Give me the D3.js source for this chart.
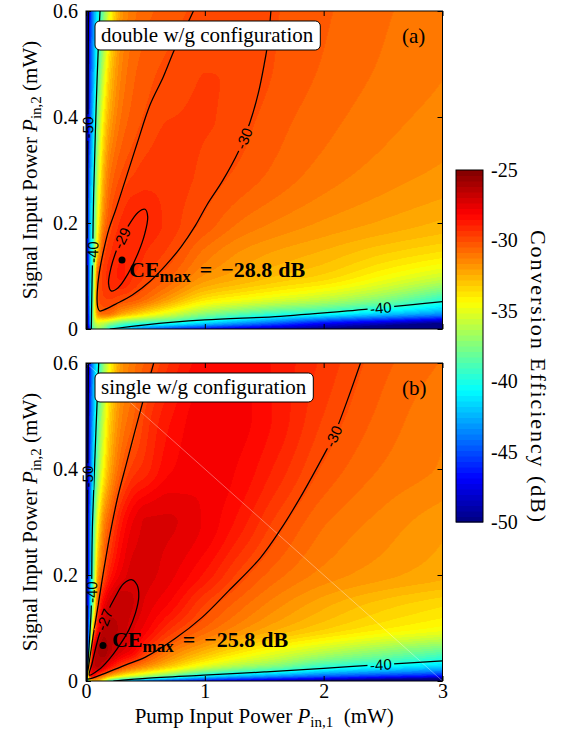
<!DOCTYPE html>
<html><head><meta charset="utf-8">
<script src="https://cdn.jsdelivr.net/npm/d3@7"></script>
<style>body{margin:0;background:#fff}svg{display:block}</style>
</head><body>
<script>
// ---------------- data ----------------
const gridX = [0,0.01,0.03,0.06,0.1,0.15,0.2,0.3,0.4,0.5,0.7,1,1.3,1.6,2,2.5,3];
const gridY = [0,0.01,0.03,0.06,0.1,0.15,0.2,0.3,0.4,0.5,0.6];
// conversion efficiency (dB), rows = gridY, cols = gridX
const ceDouble = [
 [-55,-52,-46,-39,-37,-38,-40,-41.5,-43,-44,-45.5,-47,-48,-49,-50,-51.5,-53],
 [-55,-50,-44,-37.5,-35.5,-36,-37,-38.5,-39.3,-39.8,-40.5,-42,-43.5,-45,-47,-48.5,-50],
 [-55,-50,-43.5,-37,-31.5,-30.6,-30.8,-32,-32.8,-33.6,-35,-37,-38.2,-39.2,-40,-41.5,-43],
 [-55,-50,-43,-37.5,-30.2,-29.7,-29.6,-29.85,-30.1,-30.6,-31.8,-33.5,-34.2,-34.8,-35.6,-37,-39],
 [-55,-49.5,-43,-38,-30.4,-29.5,-29.1,-28.85,-29.3,-29.7,-30.4,-31.7,-32.3,-32.8,-33.3,-34.4,-35.5],
 [-55,-49.5,-43,-39,-33,-30,-29.4,-28.95,-28.95,-29.25,-29.75,-30.9,-31.6,-32,-32.4,-33,-33.5],
 [-55,-49,-43,-39.7,-34.5,-31.2,-30,-29.2,-28.95,-29,-29.45,-30.2,-30.9,-31.3,-31.7,-32.1,-32.5],
 [-55,-49.5,-44,-40.8,-36,-32.5,-31,-30.1,-29.75,-29.55,-29.45,-29.8,-30.15,-30.55,-31,-31.4,-31.7],
 [-55,-50.5,-45.5,-41.8,-37.5,-34,-32.2,-30.8,-30.3,-30.02,-29.7,-29.65,-29.9,-30.3,-30.7,-31.1,-31.4],
 [-55,-51,-46,-43,-39.3,-35.8,-33.3,-31.3,-30.6,-30.3,-29.98,-29.7,-29.7,-30.1,-30.5,-30.9,-31.2],
 [-55,-52,-47,-43.5,-40.6,-37.5,-34.8,-31.8,-31,-30.6,-30.3,-29.9,-29.75,-30.05,-30.4,-30.8,-31.1]
];
const ceSingle = [
 [-55,-45,-36,-33,-33,-35,-38.5,-41.5,-43,-44,-45.5,-47,-48,-49,-50,-51.5,-53],
 [-55,-42,-29.5,-28.3,-29.6,-31,-32.2,-34,-35.2,-36.2,-38,-40.6,-42,-43,-44.3,-45.5,-46.5],
 [-55,-46,-31.5,-26.9,-26.4,-27,-28,-29.5,-30.5,-31.3,-32.8,-34.8,-36.2,-37.2,-39,-40.2,-41.3],
 [-55,-48,-39,-28,-26.2,-25.85,-26.4,-27.2,-27.9,-29.2,-30.8,-32.3,-33.5,-34.5,-35.6,-36.8,-37.8],
 [-55,-49,-42,-33,-28.3,-26.6,-26.4,-26.7,-27.3,-27.9,-29.2,-30.5,-31.5,-32.3,-33.1,-33.9,-34.5],
 [-55,-49.5,-43.5,-37.3,-30.3,-28,-27.15,-26.7,-26.95,-27.4,-28.1,-29.6,-30.6,-31.4,-32.2,-32.9,-33.4],
 [-55,-49.5,-44,-38.5,-32,-30,-28.7,-27.6,-27.15,-27.2,-27.6,-28.6,-29.85,-30.7,-31.4,-31.9,-32.3],
 [-55,-49.5,-44.5,-39.6,-34.5,-31.5,-30.3,-28.6,-27.7,-27.3,-27.3,-27.8,-28.7,-29.8,-30.8,-31.4,-31.9],
 [-55,-50.5,-45.5,-41.3,-37.3,-34.2,-32.3,-30.4,-29.5,-29.1,-28.2,-27.8,-28.2,-29,-30.15,-30.9,-31.3],
 [-55,-51,-46,-42.5,-38.8,-35.6,-33.3,-31.3,-30.5,-29.6,-28.6,-27.9,-28,-28.6,-29.7,-30.6,-31.2],
 [-55,-52,-47,-43,-40.3,-37,-34.5,-31.8,-31,-30.4,-29.3,-28.3,-28.2,-28.6,-29.4,-30.35,-30.9]
];

// contour lines [P_in,1, P_in,2]
const dblM50 = [[0.008,0],[0.01,0.15],[0.013,0.3],[0.017,0.45],[0.021,0.6]];
const dblM40L = [[0.045,0],[0.048,0.05],[0.052,0.1],[0.057,0.15],[0.06,0.2],[0.064,0.25],[0.07,0.3],[0.08,0.38],[0.093,0.47],[0.105,0.54],[0.118,0.6]];
const dblM40B = [[0.2,0],[0.5,0.008],[1.0,0.017],[1.635,0.024],[2.2,0.034],[2.48,0.04],[2.75,0.046],[3,0.0515]];
const dblM30 = [[0.904,0.6],[0.862,0.58],[0.8,0.553],[0.742,0.526],[0.651,0.476],[0.539,0.423],[0.43,0.35],[0.331,0.281],[0.25,0.225],[0.191,0.187],[0.15,0.15],[0.121,0.118],[0.1,0.085],[0.093,0.055],[0.1,0.04],[0.115,0.034],[0.15,0.036],[0.25,0.047],[0.39,0.064],[0.54,0.09],[0.67,0.12],[0.8,0.155],[0.92,0.195],[1.02,0.235],[1.15,0.28],[1.283,0.335],[1.38,0.39],[1.45,0.445],[1.5,0.5],[1.53,0.54],[1.556,0.6]];
const dblM29 = [[0.497,0.226],[0.519,0.212],[0.496,0.181],[0.436,0.142],[0.353,0.104],[0.271,0.078],[0.211,0.072],[0.19,0.086],[0.212,0.117],[0.272,0.157],[0.355,0.194],[0.437,0.22]];

const sglM50 = [[0.008,0],[0.01,0.15],[0.012,0.3],[0.016,0.45],[0.02,0.6]];
const sglM40L = [[0.003,0],[0.015,0.03],[0.03,0.08],[0.043,0.13],[0.048,0.18],[0.05,0.24],[0.055,0.3],[0.068,0.38],[0.085,0.48],[0.107,0.6]];
const sglM40B = [[0.23,0],[0.5,0.005],[0.99,0.011],[1.5,0.017],[2.0,0.024],[2.48,0.031],[3,0.038]];
const sglM30 = [[0.57,0.6],[0.52,0.56],[0.47,0.52],[0.41,0.47],[0.34,0.41],[0.27,0.35],[0.205,0.28],[0.15,0.21],[0.1,0.14],[0.06,0.085],[0.03,0.04],[0.012,0.012],[0.01,0.004],[0.03,0.004],[0.11,0.01],[0.33,0.03],[0.5,0.045],[0.75,0.08],[0.977,0.12],[1.2,0.17],[1.466,0.232],[1.635,0.285],[1.8,0.345],[2.01,0.43],[2.08,0.46],[2.2,0.53],[2.31,0.6]];
const sglM27 = [[0.028,0.011],[0.051,0.033],[0.107,0.084],[0.177,0.128],[0.247,0.159],[0.318,0.184],[0.388,0.191],[0.43,0.181],[0.444,0.159],[0.416,0.128],[0.36,0.096],[0.275,0.065],[0.191,0.04],[0.107,0.021]];

// contour labels: text, contour index, approx. position
const dblLabels = [["-50",0,0.015,0.38],["-40",1,0.057,0.145],["-29",4,0.3,0.171],["-30",3,1.326,0.36],["-40",2,2.48,0.04]];
const sglLabels = [["-50",0,0.014,0.386],["-40",1,0.048,0.168],["-27",4,0.156,0.115],["-30",3,2.084,0.461],["-40",2,2.48,0.031]];

// maximum conversion efficiency: [P_in,1, P_in,2, CE]
const ceMaxDouble = [0.303,0.13,-28.8];
const ceMaxSingle = [0.143,0.067,-25.8];

const xTicks = [0,1,2,3], xTickLabels = ["0","1","2","3"];
const yTicks = [0,0.2,0.4,0.6], yTickLabels = ["0","0.2","0.4","0.6"];
const cbTicks = [-25,-30,-35,-40,-45,-50], cbTickLabels = ["-25","-30","-35","-40","-45","-50"];
const panelNames = ["double w/g configuration","single w/g configuration"];
const panelTags = ["(a)","(b)"];

// ---------------- drawing ----------------
const W = 561, H = 734;
const serif = '"Liberation Serif","Times New Roman",Times,serif';
const sans = '"Liberation Sans",Arial,Helvetica,sans-serif';
const svg = d3.select('body').append('svg').attr('width',W).attr('height',H);
const defs = svg.append('defs');

function jet(t){
  const c = v => Math.max(0, Math.min(1, v));
  return [c(1.5-Math.abs(4*t-3))*255, c(1.5-Math.abs(4*t-2))*255, c(1.5-Math.abs(4*t-1))*255].map(Math.round);
}
const cScale = d3.scaleQuantize().domain([-50,-25]).range(d3.range(64).map(k => jet((k+0.5)/64)));

// monotone cubic (PCHIP) shading of the grid, for a smooth display
function pchipSlopes(xs, ys){
  const n = xs.length, h = [], d = [], m = new Array(n);
  for (let k=0;k<n-1;k++){ h[k]=xs[k+1]-xs[k]; d[k]=(ys[k+1]-ys[k])/h[k]; }
  m[0]=d[0]; m[n-1]=d[n-2];
  for (let k=1;k<n-1;k++){
    if (d[k-1]*d[k] <= 0) m[k]=0;
    else { const w1=2*h[k]+h[k-1], w2=h[k]+2*h[k-1]; m[k]=(w1+w2)/(w1/d[k-1]+w2/d[k]); }
  }
  return m;
}
function pchipEval(xs, ys, m, x){
  let k = d3.bisectRight(xs, x) - 1; k = Math.max(0, Math.min(xs.length-2, k));
  const h = xs[k+1]-xs[k]; let t = (x-xs[k])/h; t = Math.max(0, Math.min(1, t));
  const t2=t*t, t3=t2*t;
  return (2*t3-3*t2+1)*ys[k] + (t3-2*t2+t)*h*m[k] + (-2*t3+3*t2)*ys[k+1] + (t3-t2)*h*m[k+1];
}

const X0 = 86, X1 = 442.5;
const panels = [
  {grid: ceDouble, top: 11, bottom: 329, contours:[dblM50,dblM40L,dblM40B,dblM30,dblM29], labels: dblLabels, ceMax: ceMaxDouble, tdx: 7, tdy: 17, showX: false, seam: false},
  {grid: ceSingle, top: 363, bottom: 681, contours:[sglM50,sglM40L,sglM40B,sglM30,sglM27], labels: sglLabels, ceMax: ceMaxSingle, tdx: 9, tdy: 1.5, showX: true, seam: true}
];

panels.forEach((P, pi) => {
  const xS = d3.scaleLinear().domain([0,3]).range([X0,X1]);
  const yS = d3.scaleLinear().domain([0,0.6]).range([P.bottom,P.top]);
  const pw = X1-X0, ph = P.bottom-P.top;

  // heatmap
  const cw = Math.round(pw), ch = Math.round(ph);
  const cv = document.createElement('canvas'); cv.width = cw; cv.height = ch;
  const ctx = cv.getContext('2d'); const img = ctx.createImageData(cw, ch);
  const cols = gridX.map((gx, i) => P.grid.map(row => row[i]));
  const colSlopes = cols.map(c => pchipSlopes(gridY, c));
  for (let py=0; py<ch; py++){
    const yv = yS.invert(P.top + (py+0.5)*ph/ch);
    const rowVals = cols.map((c, i) => pchipEval(gridY, c, colSlopes[i], yv));
    const rowSlopes = pchipSlopes(gridX, rowVals);
    for (let px=0; px<cw; px++){
      const xv = xS.invert(X0 + (px+0.5)*pw/cw);
      const c = cScale(pchipEval(gridX, rowVals, rowSlopes, xv));
      const k = (py*cw+px)*4;
      img.data[k]=c[0]; img.data[k+1]=c[1]; img.data[k+2]=c[2]; img.data[k+3]=255;
    }
  }
  ctx.putImageData(img,0,0);
  svg.append('image').attr('x',X0).attr('y',P.top).attr('width',pw).attr('height',ph)
     .attr('preserveAspectRatio','none').attr('href', cv.toDataURL());

  const clipId = 'clip'+pi, maskId = 'mask'+pi;
  defs.append('clipPath').attr('id',clipId).append('rect').attr('x',X0).attr('y',P.top).attr('width',pw).attr('height',ph);
  const mask = defs.append('mask').attr('id',maskId).attr('maskUnits','userSpaceOnUse')
     .attr('x',0).attr('y',0).attr('width',W).attr('height',H);
  mask.append('rect').attr('x',0).attr('y',0).attr('width',W).attr('height',H).attr('fill','#fff');

  if (P.seam){
    svg.append('line').attr('x1',xS(0)).attr('y1',yS(0.6)).attr('x2',xS(3)).attr('y2',yS(0))
       .attr('stroke','#fff').attr('stroke-opacity',0.45).attr('stroke-width',0.8);
  }

  const cg = svg.append('g').attr('clip-path',`url(#${clipId})`).append('g').attr('mask',`url(#${maskId})`);
  const lineOpen = d3.line().x(d=>xS(d[0])).y(d=>yS(d[1])).curve(d3.curveCatmullRom.alpha(0.5));
  const lineClosed = d3.line().x(d=>xS(d[0])).y(d=>yS(d[1])).curve(d3.curveCatmullRomClosed.alpha(0.5));
  const paths = P.contours.map((pts, ci) => cg.append('path')
      .attr('d', ci===4 ? lineClosed(pts) : lineOpen(pts))
      .attr('fill','none').attr('stroke','#000').attr('stroke-width',1.25).node());

  // contour labels
  const lg = svg.append('g');
  P.labels.forEach(l => {
    const path = paths[l[1]];
    const L = path.getTotalLength();
    const tx = xS(l[2]), ty = yS(l[3]);
    let best = 0, bd = Infinity;
    for (let s=0; s<=L; s+=0.5){
      const p = path.getPointAtLength(s);
      const d = (p.x-tx)*(p.x-tx)+(p.y-ty)*(p.y-ty);
      if (d<bd){bd=d;best=s;}
    }
    const p = path.getPointAtLength(best);
    const p1 = path.getPointAtLength(Math.max(0,best-4)), p2 = path.getPointAtLength(Math.min(L,best+4));
    let ang = Math.atan2(p2.y-p1.y, p2.x-p1.x)*180/Math.PI;
    if (ang>90) ang-=180; if (ang<-90) ang+=180;
    const tr = `translate(${p.x},${p.y}) rotate(${ang})`;
    const t = lg.append('text').attr('transform',tr).attr('text-anchor','middle').attr('dy','0.36em')
      .style('font-family',sans).style('font-size','15px').attr('fill','#000').text(l[0]);
    const w = t.node().getComputedTextLength();
    mask.append('rect').attr('transform',tr).attr('x',-w/2-2.5).attr('y',-6).attr('width',w+5).attr('height',12).attr('fill','#000');
  });

  // CE max marker + annotation
  const mx = xS(P.ceMax[0]), my = yS(P.ceMax[1]);
  svg.append('circle').attr('cx',mx).attr('cy',my).attr('r',3.5).attr('fill','#000');
  const ta = svg.append('text').attr('x',mx+P.tdx).attr('y',my+P.tdy)
    .style('font-family',serif).style('font-weight','bold').style('font-size','22px').attr('fill','#000');
  ta.append('tspan').text('CE');
  ta.append('tspan').attr('dy',5).style('font-size','17px').text('max');
  ta.append('tspan').attr('dy',-5).attr('dx',9).text('=');
  ta.append('tspan').attr('dx',9).text('\u2212' + Math.abs(P.ceMax[2]).toFixed(1));
  ta.append('tspan').attr('dx',6).text('dB');

  // configuration box
  const bt = svg.append('text').attr('x',101).attr('y',P.top+30.5)
    .style('font-family',serif).style('font-size','21px').attr('fill','#000').text(panelNames[pi]);
  const bw = bt.node().getComputedTextLength();
  svg.insert('rect', () => bt.node()).attr('x',95).attr('y',P.top+10).attr('width',bw+13).attr('height',29)
    .attr('rx',5).attr('fill','#fff').attr('stroke','#000').attr('stroke-width',1);
  svg.append('text').attr('x',402).attr('y',P.top+32)
    .style('font-family',serif).style('font-size','21px').attr('fill','#000').text(panelTags[pi]);

  // axes with inward ticks
  const styleAxis = g => { g.select('.domain').remove(); g.selectAll('line').attr('stroke','#000');
    g.selectAll('text').style('font-family',serif).style('font-size','20px').attr('fill','#000'); };
  svg.append('g').attr('transform',`translate(${X0},0)`)
    .call(d3.axisLeft(yS).tickValues(yTicks).tickFormat((d,i)=>yTickLabels[i]).tickSize(-5).tickPadding(8)).call(styleAxis);
  svg.append('g').attr('transform',`translate(${X1},0)`)
    .call(d3.axisRight(yS).tickValues(yTicks).tickFormat('').tickSize(-5)).call(styleAxis);
  svg.append('g').attr('transform',`translate(0,${P.top})`)
    .call(d3.axisTop(xS).tickValues(xTicks).tickFormat('').tickSize(-5)).call(styleAxis);
  svg.append('g').attr('transform',`translate(0,${P.bottom})`)
    .call(d3.axisBottom(xS).tickValues(xTicks).tickFormat((d,i)=>P.showX?xTickLabels[i]:'').tickSize(-5).tickPadding(3)).call(styleAxis);
  svg.append('rect').attr('x',X0).attr('y',P.top).attr('width',pw).attr('height',ph)
    .attr('fill','none').attr('stroke','#000').attr('stroke-width',1);

  // y label
  const yl = svg.append('text').attr('transform',`translate(37,${P.top+ph/2}) rotate(-90)`)
    .attr('text-anchor','middle').style('font-family',serif).style('font-size','21px').attr('fill','#000');
  yl.append('tspan').text('Signal Input Power ');
  yl.append('tspan').style('font-style','italic').text('P');
  yl.append('tspan').attr('dy',4).style('font-size','15px').text('in,2');
  yl.append('tspan').attr('dy',-4).text(' (mW)');
});

// x label
const xl = svg.append('text').attr('x',(X0+X1)/2).attr('y',723).attr('text-anchor','middle')
  .style('font-family',serif).style('font-size','21px').attr('fill','#000');
xl.append('tspan').text('Pump Input Power ');
xl.append('tspan').style('font-style','italic').text('P');
xl.append('tspan').attr('dy',4).style('font-size','15px').text('in,1');
xl.append('tspan').attr('dy',-4).text('\u2002(mW)');

// colorbar
const cbX = 456, cbW = 27, cbTop = 170, cbBot = 522;
const yC = d3.scaleLinear().domain([-50,-25]).range([cbBot,cbTop]);
const levels = cScale.range().map((c,k) => ({c, v0: cScale.invertExtent(c)[0], v1: cScale.invertExtent(c)[1]}));
svg.append('g').selectAll('rect').data(levels).join('rect')
  .attr('x',cbX).attr('width',cbW).attr('y',d=>yC(d.v1)).attr('height',d=>yC(d.v0)-yC(d.v1)+0.5)
  .attr('fill',d=>`rgb(${d.c[0]},${d.c[1]},${d.c[2]})`);
svg.append('rect').attr('x',cbX).attr('y',cbTop).attr('width',cbW).attr('height',cbBot-cbTop)
  .attr('fill','none').attr('stroke','#000').attr('stroke-width',1);
svg.append('g').selectAll('text').data(cbTicks).join('text')
  .attr('x',491).attr('y',d=>yC(d)).attr('dy','0.35em')
  .style('font-family',serif).style('font-size','20px').attr('fill','#000')
  .text((d,i)=>cbTickLabels[i]);
svg.append('text').attr('transform','translate(531,376) rotate(90)').attr('text-anchor','middle')
  .style('font-family',serif).style('font-size','22px').attr('fill','#000')
  .attr('textLength',292).attr('lengthAdjust','spacing')
  .text('Conversion Efficiency (dB)');
</script>
</body></html>
